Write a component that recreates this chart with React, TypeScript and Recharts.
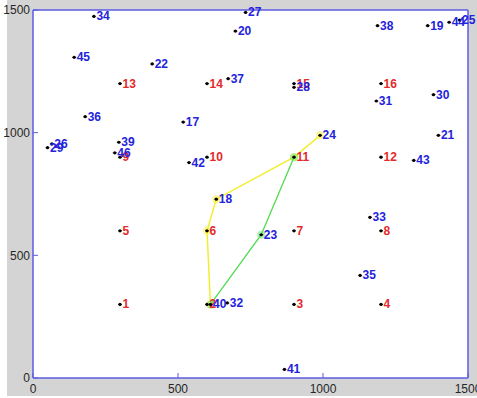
import React from 'react';
import { ScatterChart, Scatter, XAxis, YAxis, CartesianGrid } from 'recharts';

const pointIds = [
  1, 2, 3, 4, 5, 6, 7, 8, 9, 10, 11, 12, 13, 14, 15, 16,
  17, 18, 19, 20, 21, 22, 23, 24, 25, 26, 27, 28, 29, 30,
  31, 32, 33, 34, 35, 36, 37, 38, 39, 40, 41, 42, 43, 44, 45, 46,
];
const pointX = [
  300, 600, 900, 1200, 300, 600, 900, 1200, 300, 600, 900, 1200, 300, 600, 900, 1200,
  518, 632, 1361, 698, 1398, 411, 787, 990, 1471, 65, 733, 900, 50, 1381,
  1184, 670, 1162, 210, 1128, 180, 673, 1188, 296, 612, 867, 538, 1313, 1435, 142, 282,
];
const pointY = [
  300, 300, 300, 300, 600, 600, 600, 600, 900, 900, 900, 900, 1200, 1200, 1200, 1200,
  1043, 729, 1436, 1414, 989, 1280, 584, 989, 1459, 954, 1490, 1185, 939, 1155,
  1129, 306, 655, 1474, 418, 1065, 1220, 1436, 961, 300, 35, 878, 887, 1450, 1307, 918,
];
const redIdMax = 16;
const yellowPathIds = [40, 6, 18, 11, 24];
const greenPathIds = [40, 23, 11];
const axisTicks = [0, 500, 1000, 1500];
const axisDomain: [number, number] = [0, 1500];

const points = pointIds.map((id, i) => ({ id, x: pointX[i], y: pointY[i] }));
const redPoints = points.filter((p) => p.id <= redIdMax);
const bluePoints = points.filter((p) => p.id > redIdMax);
const pathOf = (ids: number[]) => ids.map((id) => points.find((p) => p.id === id)!);
const yellowPath = pathOf(yellowPathIds);
const greenPath = pathOf(greenPathIds);

const FONT = '"Liberation Sans Narrow", "Arial Narrow", "Liberation Sans", Arial, sans-serif';
const AXIS_BLUE = '#5c5ce6';
const RED = '#e42a2a';
const BLUE = '#2323dc';

const makeLabeled = (color: string) => (props: any) => {
  const { cx, cy, payload } = props;
  if (cx == null || cy == null) return <g />;
  return (
    <g>
      <circle cx={cx} cy={cy} r={1.6} fill="#000" />
      <line x1={cx - 2} x2={cx + 2} y1={cy} y2={cy} stroke="#000" strokeWidth={0.8} />
      <text x={cx + 2.5} y={cy + 4} fill={color} fontSize={12} fontWeight="bold" fontFamily={FONT}>
        {payload.id}
      </text>
    </g>
  );
};

const makeGlow = (color: string) => (props: any) => {
  const { cx, cy } = props;
  if (cx == null || cy == null) return <g />;
  return <circle cx={cx} cy={cy} r={4} fill={color} fillOpacity={0.55} />;
};

const tickStyle = { fill: '#262626', fontSize: 12, fontFamily: FONT };

export default function App() {
  return (
    <div style={{ position: 'absolute', left: 0, top: 0, width: 477, height: 398, background: '#fff' }}>
      <div style={{ position: 'absolute', left: 7, top: 0, width: 470, height: 396, background: '#d4d4d4' }} />
      <div style={{ position: 'absolute', left: 0, top: 0 }}>
        <ScatterChart width={477} height={398} margin={{ top: 9, right: 8, bottom: 0, left: 0 }}>
          <CartesianGrid fill="#ffffff" horizontal={false} vertical={false} />
          <XAxis
            type="number"
            dataKey="x"
            domain={axisDomain}
            ticks={axisTicks}
            height={20}
            tickSize={-5}
            tickMargin={11}
            tick={tickStyle}
            axisLine={{ stroke: AXIS_BLUE, strokeWidth: 1.5 }}
            tickLine={{ stroke: AXIS_BLUE }}
            interval={0}
          />
          <XAxis
            xAxisId="t"
            orientation="top"
            type="number"
            dataKey="x"
            domain={axisDomain}
            ticks={axisTicks}
            height={1}
            tickSize={-5}
            tick={false}
            axisLine={{ stroke: AXIS_BLUE, strokeWidth: 1.5 }}
            tickLine={{ stroke: AXIS_BLUE }}
            interval={0}
          />
          <YAxis
            type="number"
            dataKey="y"
            domain={axisDomain}
            ticks={axisTicks}
            width={33}
            tickSize={-5}
            tickMargin={8}
            tick={tickStyle}
            axisLine={{ stroke: AXIS_BLUE, strokeWidth: 1.5 }}
            tickLine={{ stroke: AXIS_BLUE }}
            interval={0}
          />
          <YAxis
            yAxisId="r"
            orientation="right"
            type="number"
            dataKey="y"
            domain={axisDomain}
            ticks={axisTicks}
            width={1}
            tickSize={-5}
            tick={false}
            axisLine={{ stroke: AXIS_BLUE, strokeWidth: 1.5 }}
            tickLine={{ stroke: AXIS_BLUE }}
            interval={0}
          />
          <Scatter
            data={yellowPath}
            line={{ stroke: '#f2ee2e', strokeWidth: 1.5 }}
            shape={makeGlow('#f6f23a')}
            isAnimationActive={false}
          />
          <Scatter
            data={greenPath}
            line={{ stroke: '#4fdc4f', strokeWidth: 1.3 }}
            shape={makeGlow('#6ee86e')}
            isAnimationActive={false}
          />
          <Scatter data={redPoints} shape={makeLabeled(RED)} isAnimationActive={false} />
          <Scatter data={bluePoints} shape={makeLabeled(BLUE)} isAnimationActive={false} />
        </ScatterChart>
      </div>
    </div>
  );
}
